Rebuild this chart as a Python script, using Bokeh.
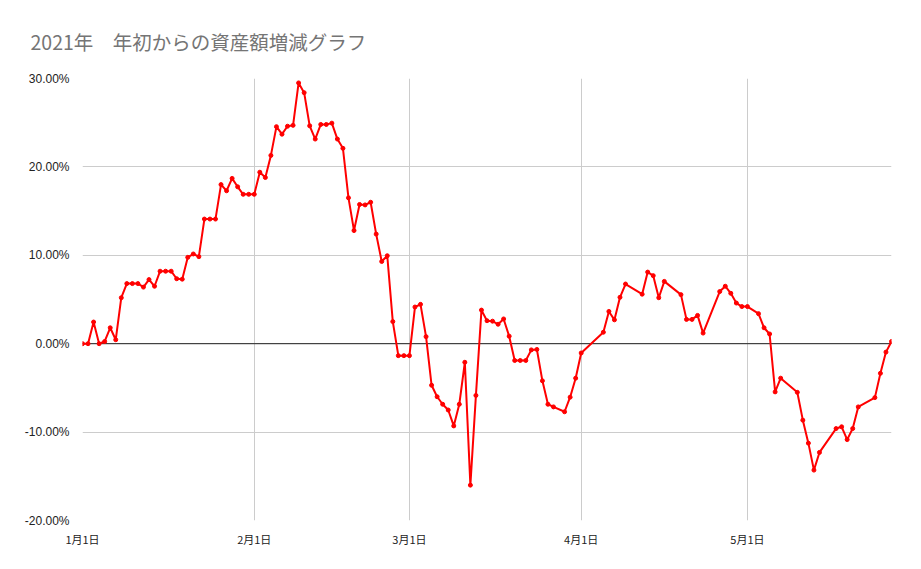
import pandas as pd
from bokeh.plotting import figure
from bokeh.models import (ColumnDataSource, FixedTicker, PrintfTickFormatter,
                          CustomJSTickFormatter, Span, Range1d)
from bokeh.embed import file_html
from bokeh.resources import INLINE

title_text = "2021年　年初からの資産額増減グラフ"

dates = [
    # January
    "2021-01-01", "2021-01-02", "2021-01-03", "2021-01-04", "2021-01-05", "2021-01-06",
    "2021-01-07", "2021-01-08", "2021-01-09", "2021-01-10", "2021-01-11", "2021-01-12",
    "2021-01-13", "2021-01-14", "2021-01-15", "2021-01-16", "2021-01-17", "2021-01-18",
    "2021-01-19", "2021-01-20", "2021-01-21", "2021-01-22", "2021-01-23", "2021-01-24",
    "2021-01-25", "2021-01-26", "2021-01-27", "2021-01-28", "2021-01-29", "2021-01-30",
    "2021-01-31",
    # February
    "2021-02-01", "2021-02-02", "2021-02-03", "2021-02-04", "2021-02-05", "2021-02-06",
    "2021-02-07", "2021-02-08", "2021-02-09", "2021-02-10", "2021-02-11", "2021-02-12",
    "2021-02-13", "2021-02-14", "2021-02-15", "2021-02-16", "2021-02-17", "2021-02-18",
    "2021-02-19", "2021-02-20", "2021-02-21", "2021-02-22", "2021-02-23", "2021-02-24",
    "2021-02-25", "2021-02-26", "2021-02-27", "2021-02-28",
    # March
    "2021-03-01", "2021-03-02", "2021-03-03", "2021-03-04", "2021-03-05", "2021-03-06",
    "2021-03-07", "2021-03-08", "2021-03-09", "2021-03-10", "2021-03-11", "2021-03-12",
    "2021-03-13", "2021-03-14", "2021-03-15", "2021-03-16", "2021-03-17", "2021-03-18",
    "2021-03-19", "2021-03-20", "2021-03-21", "2021-03-22", "2021-03-23", "2021-03-24",
    "2021-03-25", "2021-03-26", "2021-03-27", "2021-03-29", "2021-03-30", "2021-03-31",
    # April
    "2021-04-01", "2021-04-05", "2021-04-06", "2021-04-07", "2021-04-08", "2021-04-09",
    "2021-04-12", "2021-04-13", "2021-04-14", "2021-04-15", "2021-04-16",
    "2021-04-19", "2021-04-20", "2021-04-21", "2021-04-22", "2021-04-23",
    "2021-04-26", "2021-04-27", "2021-04-28", "2021-04-29", "2021-04-30",
    # May
    "2021-05-01", "2021-05-03", "2021-05-04", "2021-05-05", "2021-05-06", "2021-05-07",
    "2021-05-10", "2021-05-11", "2021-05-12", "2021-05-13", "2021-05-14",
    "2021-05-17", "2021-05-18", "2021-05-19", "2021-05-20", "2021-05-21",
    "2021-05-24", "2021-05-25", "2021-05-26", "2021-05-27",
]

# percent change since start of year
values = [
    # January
    0.0, 0.0, 2.45, 0.0, 0.25, 1.8, 0.45, 5.2, 6.8, 6.8, 6.8, 6.4, 7.25, 6.5, 8.2, 8.2,
    8.2, 7.35, 7.3, 9.77, 10.15, 9.85, 14.1, 14.1, 14.1, 18.0, 17.3, 18.7, 17.75, 16.9, 16.9,
    # February
    16.9, 19.4, 18.8, 21.3, 24.55, 23.7, 24.6, 24.7, 29.5, 28.4, 24.65, 23.15, 24.8, 24.8,
    24.95, 23.15, 22.1, 16.5, 12.8, 15.75, 15.7, 16.0, 12.4, 9.3, 9.95, 2.5, -1.35, -1.35,
    # March
    -1.35, 4.15, 4.45, 0.8, -4.7, -6.0, -6.85, -7.5, -9.3, -6.85, -2.1, -16.0, -5.85, 3.8,
    2.6, 2.55, 2.2, 2.8, 0.85, -1.9, -1.9, -1.9, -0.7, -0.65, -4.2, -6.85, -7.15,
    -7.7, -6.05, -3.9,
    # April
    -1.05, 1.3, 3.65, 2.7, 5.25, 6.75, 5.6, 8.1, 7.7, 5.2, 7.05, 5.55, 2.75, 2.75, 3.2, 1.2,
    5.9, 6.5, 5.7, 4.6, 4.2,
    # May
    4.2, 3.4, 1.8, 1.1, -5.45, -3.9, -5.5, -8.65, -11.25, -14.3, -12.3, -9.6, -9.4, -10.85,
    -9.6, -7.15, -6.1, -3.35, -0.95, 0.25,
]

month_ticks = ["2021-01-01", "2021-02-01", "2021-03-01", "2021-04-01", "2021-05-01"]
y_ticks = [-20, -10, 0, 10, 20, 30]
y_min, y_max = -20, 30

x = pd.to_datetime(dates)
src = ColumnDataSource(dict(x=x, y=values))

p = figure(width=913, height=561, x_axis_type="datetime",
           output_backend="svg", toolbar_location=None,
           x_range=Range1d(x.min(), x.max()), y_range=Range1d(y_min, y_max),
           min_border_left=82, min_border_right=22, min_border_top=78,
           min_border_bottom=41)

p.title.text = title_text
p.title.text_font = "Noto Sans CJK JP"
p.title.text_font_size = "19.5px"
p.title.text_font_style = "normal"
p.title.text_color = "#757575"
p.title.align = "left"
p.title.offset = -52
p.title.standoff = 45

p.outline_line_color = None
p.background_fill_color = "white"
p.border_fill_color = "white"

tick_ms = [t.timestamp() * 1000 for t in pd.to_datetime(month_ticks)]
p.xaxis.ticker = FixedTicker(ticks=tick_ms)
p.xaxis.formatter = CustomJSTickFormatter(code="""
const d = new Date(tick);
return (d.getUTCMonth() + 1) + "月" + d.getUTCDate() + "日";
""")
p.yaxis.ticker = FixedTicker(ticks=y_ticks)
p.yaxis.formatter = PrintfTickFormatter(format="%.2f%%")

for ax in (p.xaxis, p.yaxis):
    ax.axis_line_color = None
    ax.major_tick_line_color = None
    ax.minor_tick_line_color = None
    ax.major_label_text_color = "#222222"

p.yaxis.major_label_text_font = "Liberation Sans"
p.yaxis.major_label_text_font_size = "12px"
p.yaxis.major_label_standoff = 7
p.xaxis.major_label_text_font = "Noto Sans CJK JP"
p.xaxis.major_label_text_font_size = "11px"
p.xaxis.major_label_standoff = 4

p.xgrid.grid_line_color = "#cccccc"
p.ygrid.grid_line_color = "#cccccc"
p.xgrid.grid_line_width = 1
p.ygrid.grid_line_width = 1

zero = Span(location=0, dimension="width", line_color="#222222", line_width=1,
            level="underlay")
p.add_layout(zero)

p.line("x", "y", source=src, line_color="#ff0000", line_width=2)
p.scatter("x", "y", source=src, size=4, fill_color="#ff0000", line_color="#ff0000")

open("out.html", "w").write(file_html(p, INLINE))
